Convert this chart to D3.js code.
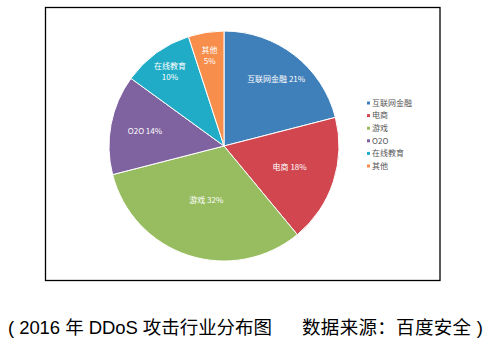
<!DOCTYPE html>
<html><head><meta charset="utf-8">
<script src="https://cdn.jsdelivr.net/npm/d3@7/dist/d3.min.js"></script>
<style>
html,body{margin:0;padding:0;background:#fff;}
svg{display:block;}
</style></head>
<body>
<svg id="chart" width="487" height="350"></svg>
<script>
const categories = ["互联网金融", "电商", "游戏", "O2O", "在线教育", "其他"];
const values = [21, 18, 32, 14, 10, 5];
const colors = ["#3f7fba", "#d2474f", "#98bd60", "#7f62a0", "#20acc6", "#f78e4c"];
const labelTwoLine = [false, false, false, false, true, true];
const labelRadiusFactor = [0.74, 0.6, 0.5, 0.7, 0.8, 0.8];
const captionLeft = "( 2016 年 DDoS 攻击行业分布图";
const captionRight = "数据来源：百度安全 )";

const svg = d3.select("#chart");
const cx = 224, cy = 146, R = 115;

svg.append("rect").attr("x", 45.5).attr("y", 7.5).attr("width", 394.5).attr("height", 273)
  .attr("fill", "#fff").attr("stroke", "#000").attr("stroke-width", 1.3);

const pie = d3.pie().value(d => d).sort(null);
const arcs = pie(values);
const arc = d3.arc().innerRadius(0).outerRadius(R);
const color = d3.scaleOrdinal().domain(categories).range(colors);

const g = svg.append("g").attr("transform", `translate(${cx},${cy})`);
g.selectAll("path").data(arcs).join("path")
  .attr("d", arc)
  .attr("fill", (d, i) => color(categories[i]))
  .attr("stroke", "#fff").attr("stroke-width", 1);

const font = "'Noto Sans CJK SC', 'Noto Sans', sans-serif";
arcs.forEach((d, i) => {
  const r = R * labelRadiusFactor[i];
  const la = d3.arc().innerRadius(r).outerRadius(r);
  const [x, y] = la.centroid(d);
  const t = g.append("text").attr("x", x).attr("y", y)
    .attr("text-anchor", "middle").attr("fill", "#fff")
    .attr("font-family", font).attr("font-size", 8);
  const pct = values[i] + "%";
  if (labelTwoLine[i]) {
    t.append("tspan").attr("x", x).attr("dy", "-0.3em").text(categories[i]);
    t.append("tspan").attr("x", x).attr("dy", "1.35em").text(pct);
  } else {
    t.attr("dy", "0.35em").text(categories[i] + " " + pct);
  }
});

const leg = svg.append("g").attr("transform", "translate(367,103)");
categories.forEach((c, i) => {
  const row = leg.append("g").attr("transform", `translate(0,${i * 12.6})`);
  row.append("rect").attr("x", 0).attr("y", -1.5).attr("width", 3).attr("height", 3).attr("fill", color(c));
  row.append("text").attr("x", 5).attr("y", 0).attr("dy", "0.35em")
    .attr("font-family", font).attr("font-size", 8).attr("fill", "#555").text(c);
});

const capFont = "'Liberation Sans', Arial, 'Noto Sans CJK SC', sans-serif";
svg.append("text").attr("x", 8).attr("y", 334)
  .attr("font-family", capFont).attr("font-size", 18.5).attr("fill", "#000")
  .attr("textLength", 264).attr("lengthAdjust", "spacing")
  .text(captionLeft);
svg.append("text").attr("x", 302).attr("y", 334)
  .attr("font-family", capFont).attr("font-size", 18.5).attr("fill", "#000")
  .attr("textLength", 181).attr("lengthAdjust", "spacing")
  .text(captionRight);
</script>
</body></html>
